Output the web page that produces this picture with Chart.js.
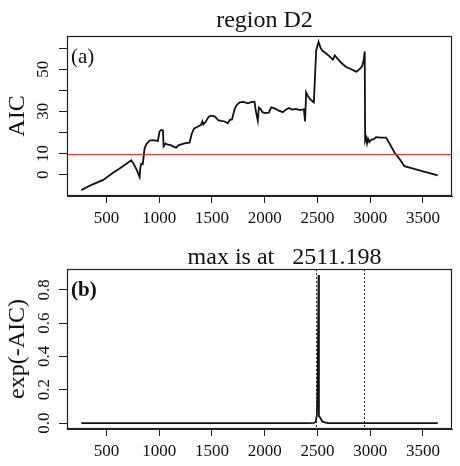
<!DOCTYPE html>
<html><head><meta charset="utf-8">
<script src="https://cdn.jsdelivr.net/npm/chart.js@4/dist/chart.umd.min.js"></script>
<style>
html,body{margin:0;padding:0;background:#fff;}
#wrap{position:relative;width:460px;height:466px;overflow:hidden;}
canvas{position:absolute;left:0;}
</style></head><body>
<div id="wrap">
<canvas id="c1" width="460" height="233" style="top:0"></canvas>
<canvas id="c2" width="460" height="233" style="top:233px"></canvas>
</div>
<script>
// ---- data ----
const positions = [262,360,470,560,650,736,760,790,815,822,830,845,862,880,909,940,988,1004,1020,1036,1042,1060,1083,1110,1140,1162,1185,1209,1250,1288,1310,1330,1367,1395,1410,1418,1440,1470,1493,1530,1560,1588,1620,1651,1670,1690,1715,1730,1762,1800,1840,1880,1904,1915,1935,1945,1960,1980,2000,2040,2062,2100,2140,2172,2200,2230,2260,2298,2330,2371,2383,2393,2410,2430,2466,2488,2500,2511,2530,2551,2580,2620,2646,2665,2690,2730,2772,2810,2851,2870,2900,2925,2940,2948,2952,2962,2970,2980,2992,3010,3035,3056,3100,3150,3190,3230,3280,3324,3400,3500,3580,3640];
const aic = [-7.3,-4.8,-2.5,0.8,3.8,6.8,5.0,2.0,-1.1,3.5,5.2,5.0,12.5,14.5,16.2,16.4,16.0,20.5,21.2,21.0,13.5,14.8,14.2,14.0,13.2,12.8,14.0,14.4,15.0,15.2,19.5,21.8,22.8,23.5,25.2,23.8,25.0,27.5,28.0,27.5,25.8,25.5,25.2,24.3,26.0,26.2,31.0,32.7,34.3,34.5,33.8,34.5,34.6,30.5,25.6,31.8,31.2,29.6,29.2,29.4,31.9,31.3,30.2,29.6,30.8,31.6,30.8,31.2,30.6,31.0,25.2,39.0,37.2,35.8,34.3,58.8,61.0,62.9,60.0,58.6,57.5,55.8,54.5,56.5,55.0,52.8,51.0,50.2,49.2,48.8,50.0,51.5,55.0,58.4,16.0,17.5,14.8,17.0,15.5,16.6,16.8,17.8,17.6,17.6,14.2,10.5,7.3,4.0,3.0,1.6,0.5,-0.3];
const weightPositions = [262,2400,2470,2485,2495,2503,2511,2514,2525,2545,2580,2600,3640];
const weights = [0,0,0.001,0.01,0.05,0.3,0.889,0.04,0.035,0.01,0.002,0,0];
const xTicks = [500,1000,1500,2000,2500,3000,3500];
const aicTicks = [0,10,20,30,40,50,60];
const aicTickLabels = ['0','10','','30','','50',''];
const weightTicks = [0,0.2,0.4,0.6,0.8];
const weightTickLabels = ['0.0','0.2','0.4','0.6','0.8'];
const aicThreshold = 10;
const markerPositions = [2487,2945];
const title1 = 'region D2';
const title2 = 'max is at   2511.198';

// ---- helpers ----
const SERIF = "'Liberation Serif','Times New Roman',serif";
function padRange(arr){ const mn=Math.min(...arr), mx=Math.max(...arr), d=(mx-mn)*0.04; return [mn-d, mx+d]; }
const [xMin,xMax] = padRange(positions);

const decor = {
  id:'decor',
  afterDatasetsDraw(chart, args, o){
    const {ctx, chartArea:a, scales} = chart;
    ctx.save();
    if (o.hline !== undefined){
      const y = Math.round(scales.y.getPixelForValue(o.hline))+0.5;
      ctx.strokeStyle = '#ff2a2a'; ctx.lineWidth = 1;
      ctx.beginPath(); ctx.moveTo(a.left, y); ctx.lineTo(a.right, y); ctx.stroke();
    }
    if (o.vlines){
      ctx.strokeStyle = '#222'; ctx.lineWidth = 1; ctx.setLineDash([2,2]);
      o.vlines.forEach(v=>{ const x = Math.round(scales.x.getPixelForValue(v))+0.5;
        ctx.beginPath(); ctx.moveTo(x, a.top); ctx.lineTo(x, a.bottom); ctx.stroke(); });
      ctx.setLineDash([]);
    }
    ctx.restore();
  },
  afterDraw(chart, args, o){
    const {ctx, chartArea:a} = chart;
    ctx.save();
    ctx.strokeStyle = '#222'; ctx.lineWidth = 1.2;
    ctx.strokeRect(a.left+0.5, a.top+0.5, a.right-a.left-1, a.bottom-a.top-1);
    ctx.fillStyle = '#111'; ctx.textAlign='left'; ctx.textBaseline='alphabetic';
    ctx.font = (o.letterWeight||'normal') + ' 21px ' + SERIF;
    ctx.fillText(o.letter, a.left + 4, a.top + o.letterBase);
    ctx.font = 'normal 24px ' + SERIF; ctx.textAlign='center';
    ctx.fillText(o.title, (a.left+a.right)/2 + o.titleShift, o.titleBase);
    ctx.restore();
  }
};

function makeChart(id, xs, ys, yRange, yTicks, yLabels, yTitle, lw, pluginOpts, tickPad){
  return new Chart(document.getElementById(id), {
    type:'scatter',
    data:{ datasets:[{ data: xs.map((x,i)=>({x, y: ys[i]})), showLine:true, borderColor:'#111', borderWidth:lw, pointRadius:0, tension:0, fill:false }]},
    options:{
      responsive:false, animation:false, devicePixelRatio:1,
      layout:{ padding:{ top:36, right:8, left:0, bottom:0 } },
      plugins:{ legend:{display:false}, tooltip:{enabled:false}, decor: pluginOpts },
      scales:{
        x:{ type:'linear', min:xMin, max:xMax,
            afterBuildTicks: s => { s.ticks = xTicks.map(v=>({value:v})); },
            afterFit: s => { s.height = 37; },
            grid:{ drawOnChartArea:false, drawTicks:true, tickLength:7, color:'#222' },
            border:{ display:true, color:'#222', width:1 },
            ticks:{ autoSkip:false, maxRotation:0, minRotation:0, padding:5, color:'#111', font:{family:SERIF, size:17}, callback: v => String(v) } },
        y:{ type:'linear', min:yRange[0], max:yRange[1],
            afterBuildTicks: s => { s.ticks = yTicks.map(v=>({value:v})); },
            afterFit: s => { s.width = 67; },
            grid:{ drawOnChartArea:false, drawTicks:true, tickLength:8, color:'#222' },
            border:{ display:true, color:'#222', width:1 },
            ticks:{ autoSkip:false, minRotation:90, maxRotation:90, crossAlign:'center', padding:tickPad, color:'#111', font:{family:SERIF, size:17},
                    callback: v => { const i = yTicks.findIndex(t=>Math.abs(t-v)<1e-9); return i<0?'':yLabels[i]; } },
            title:{ display:true, text:yTitle, color:'#111', font:{family:SERIF, size:24}, padding:{top:3,bottom:0} } }
      }
    },
    plugins:[decor]
  });
}

makeChart('c1', positions, aic, padRange(aic), aicTicks, aicTickLabels, 'AIC', 1.8,
  { hline: aicThreshold, letter:'(a)', letterBase:27, title:title1, titleShift:5, titleBase:27 }, 7);
makeChart('c2', weightPositions, weights, padRange(weights), weightTicks, weightTickLabels, 'exp(-AIC)', 1.8,
  { vlines: markerPositions, letter:'(b)', letterBase:27, letterWeight:'bold', title:title2, titleShift:25, titleBase:31 }, 4);
</script>
</body></html>
